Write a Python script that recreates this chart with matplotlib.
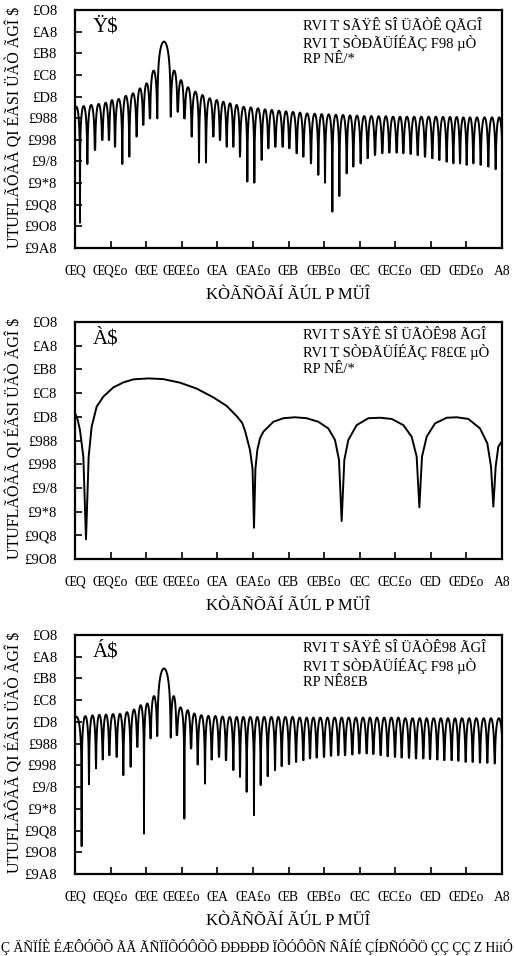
import numpy as np
import matplotlib
matplotlib.use("Agg")
import matplotlib.pyplot as plt

plt.rcParams['font.family'] = ['Liberation Serif', 'DejaVu Serif']

# axis ticks (tick index units on x, tick steps of 10 on y)
X_TICKS = np.arange(13)
X_TICK_LABELS = ["ŒQ", "ŒQ£o", "ŒŒ", "ŒŒ£o", "ŒA", "ŒA£o", "ŒB", "ŒB£o",
                 "ŒC", "ŒC£o", "ŒD", "ŒD£o", "A8"]
Y_TICKS_12 = np.arange(0, -111, -10)
Y_TICKS_11 = np.arange(0, -101, -10)
Y_TICK_LABELS = ["£O8", "£A8", "£B8", "£C8", "£D8", "£988", "£998", "£9/8",
                 "£9*8", "£9Q8", "£9O8", "£9A8"]

X_LABEL = "KÒÃÑÕÃÍ ÃÚL P MÜÎ"
Y_LABEL = "UTUFLÃÔÃÃ QI ÉÃSI ÜÃÒ ÃGÎ $"
PANEL_LABELS = ["Ÿ$", "À$", "Á$"]
LEGENDS = [
    ["RVI T SÃŸÊ SÎ ÜÃÒÊ QÃGÎ", "RVI T SÒÐÃÜÍÉÃÇ F98 µÒ", "RP NÊ/*"],
    ["RVI T SÃŸÊ SÎ ÜÃÒÊ98 ÃGÎ", "RVI T SÒÐÃÜÍÉÃÇ F8£Œ µÒ", "RP NÊ/*"],
    ["RVI T SÃŸÊ SÎ ÜÃÒÊ98 ÃGÎ", "RVI T SÒÐÃÜÍÉÃÇ F98 µÒ", "RP NÊ8£B"],
]
CAPTION = "Ç ÄÑÏÍÈ ÉÆÔÓÕÕ ÃÃ ÃÑÏÏÕÓÔÕÕ ÐÐÐÐÐ ÏÕÓÔÕÑ ÑÂÍÉ ÇÍÐÑÓÕÖ ÇÇ ÇÇ Z HiiÓ"

# panel (a): dip positions / depths and lobe tops
dips_a_x = [-0.06, 0.14, 0.347, 0.562, 0.768, 0.955, 1.124, 1.330, 1.527, 1.733,
            1.920, 2.108, 2.314, 2.689, 2.885, 3.073, 3.279, 3.485, 3.681, 3.888,
            4.075, 4.262, 4.450, 4.637, 4.843, 5.040, 5.246, 5.433, 5.630, 5.836,
            6.023, 6.230, 6.417, 6.632, 6.838, 7.026, 7.232, 7.429, 7.635, 7.822,
            8.028, 8.225, 8.431, 8.637, 8.834, 9.040, 9.227, 9.433, 9.630, 9.836,
            10.042, 10.239, 10.445, 10.632, 10.820, 11.007, 11.194, 11.400, 11.616,
            11.822, 12.02]
dips_a_y = [-70.0, -98.3, -71.2, -64.7, -60.1, -60.1, -63.2, -71.2, -67.8, -58.5,
            -53.1, -50.1, -50.1, -49.3, -47.0, -50.1, -58.5, -70.5, -70.5, -58.5,
            -60.1, -63.2, -63.2, -67.8, -79.3, -79.8, -69.3, -63.9, -63.2, -63.2,
            -63.9, -66.2, -67.8, -70.9, -76.2, -79.8, -93.2, -86.0, -75.5, -72.4,
            -70.9, -68.5, -67.0, -66.2, -65.9, -65.9, -66.2, -66.5, -67.0, -67.8,
            -68.5, -69.3, -70.1, -70.9, -70.9, -71.6, -70.9, -71.6, -72.4,
            -73.6, -75.0]
tops_a = [-44.7, -44.4, -43.9, -43.4, -42.8, -41.6, -41.1, -39.7, -38.5, -36.2,
          -33.9, -28.0, -14.6, -28.0, -32.4, -35.7, -37.7, -39.3, -40.8, -41.6,
          -42.4, -43.1, -43.9, -44.7, -45.0, -45.4, -45.9, -46.2, -46.5, -46.8,
          -47.1, -47.4, -47.8, -47.9, -48.1, -48.2, -48.4, -48.5, -48.7, -48.8,
          -49.0, -49.0, -49.1, -49.1, -49.3, -49.3, -49.3, -49.3, -49.3, -49.3,
          -49.3, -49.4, -49.4, -49.4, -49.6, -49.6, -49.6, -49.6, -49.6, -49.6]

# panel (b): traced points
b_x = [0.0, 0.07, 0.14, 0.234, 0.309, 0.384, 0.468, 0.609, 0.796, 1.077, 1.358,
       1.639, 2.061, 2.482, 2.951, 3.419, 3.888, 4.262, 4.543, 4.700, 4.778,
       4.918, 4.990, 5.030, 5.070, 5.124, 5.200, 5.293, 5.574, 5.855, 6.183,
       6.511, 6.838, 7.119, 7.307, 7.419, 7.494, 7.569, 7.681, 7.916, 8.244,
       8.571, 8.899, 9.227, 9.461, 9.602, 9.677, 9.752, 9.883, 10.117, 10.445,
       10.726, 11.054, 11.382, 11.588, 11.691, 11.757, 11.822, 11.897, 11.991]
b_y = [-38.5, -41.0, -45.6, -56.8, -91.7, -56.8, -44.2, -35.7, -31.5, -27.6,
       -25.5, -24.2, -23.8, -24.1, -25.6, -28.1, -31.8, -35.4, -39.7, -42.6,
       -45.9, -54.0, -62.0, -86.8, -62.0, -54.0, -49.0, -46.3, -42.1, -40.6,
       -40.2, -40.6, -42.1, -44.9, -49.8, -58.2, -84.0, -58.2, -49.8, -43.5,
       -40.6, -40.4, -40.9, -43.5, -48.4, -56.8, -78.2, -56.8, -48.4, -42.8,
       -40.4, -40.2, -40.9, -44.9, -51.2, -61.0, -77.9, -61.0, -52.6, -50.5]

# panel (c): dip positions / depths and lobe tops
dips_c_x = [-0.10, 0.187, 0.393, 0.590, 0.778, 0.965, 1.171, 1.358, 1.564, 1.752,
            1.939, 2.126, 2.314, 2.689, 2.857, 3.073, 3.260, 3.447, 3.653, 3.841,
            4.047, 4.244, 4.450, 4.637, 4.824, 5.030, 5.218, 5.415, 5.621, 5.808,
            6.014, 6.211, 6.417, 6.604, 6.792, 6.998, 7.194, 7.400, 7.588, 7.794,
            7.991, 8.197, 8.384, 8.590, 8.787, 8.993, 9.180, 9.386, 9.583, 9.789,
            9.977, 10.183, 10.379, 10.585, 10.773, 10.979, 11.176, 11.382, 11.588,
            11.794, 12.03]
dips_c_y = [-60.0, -97.2, -68.7, -61.4, -57.3, -55.3, -56.1, -64.5, -60.7, -51.5,
            -91.4, -47.6, -46.5, -47.2, -46.1, -84.5, -52.2, -59.6, -68.4, -57.3,
            -56.1, -57.6, -62.2, -65.3, -72.2, -82.9, -69.1, -65.0, -62.2, -60.4,
            -59.4, -58.4, -57.6, -56.8, -56.4, -56.1, -55.6, -55.3, -55.3, -55.0,
            -54.5, -54.5, -54.8, -55.3, -55.8, -56.1, -56.4, -56.5, -56.8, -56.8,
            -57.1, -57.3, -57.6, -57.6, -57.9, -58.4, -58.4, -58.7, -58.8,
            -59.1, -60.0]
tops_c = [-37.6, -37.3, -37.0, -36.7, -36.6, -36.4, -36.3, -35.5, -34.3, -32.3,
          -31.5, -28.1, -15.4, -28.1, -33.3, -34.6, -36.1, -36.9, -37.2, -37.3,
          -37.5, -37.7, -37.7, -37.7, -37.7, -37.7, -37.7, -37.7, -37.7, -37.7,
          -37.7, -38.0, -38.0, -38.0, -38.0, -38.0, -38.0, -38.0, -38.0, -38.0,
          -38.0, -38.0, -38.0, -38.0, -38.0, -38.0, -38.3, -38.3, -38.3, -38.3,
          -38.3, -38.3, -38.3, -38.3, -38.3, -38.3, -38.3, -38.3, -38.3, -38.3]


def lobes(dip_x, dip_y, tops, n=40):
    # each lobe: arch between two dips, cusp clipped at the read dip depth
    xs, ys = [], []
    for i, top in enumerate(tops):
        u = np.linspace(0, 1, n)
        with np.errstate(divide='ignore'):
            y = top + 20 * np.log10(np.abs(np.sin(np.pi * u)))
        y = np.maximum(y, np.where(u < 0.5, dip_y[i], dip_y[i + 1]))
        x = dip_x[i] + u * (dip_x[i + 1] - dip_x[i])
        if i:
            x, y = x[1:], y[1:]
        xs.append(x)
        ys.append(y)
    return np.concatenate(xs), np.concatenate(ys)


W, H = 515, 956
fig = plt.figure(figsize=(W / 100, H / 100), dpi=100)

# pixel boxes of the three axes: (top, bottom)
boxes = [(10, 248), (322, 559), (635, 874)]
curves = [lobes(dips_a_x, dips_a_y, tops_a), (np.array(b_x), np.array(b_y)),
          lobes(dips_c_x, dips_c_y, tops_c)]
yticks = [Y_TICKS_12, Y_TICKS_11, Y_TICKS_12]
left, right = 75, 502

for k, (top, bot) in enumerate(boxes):
    ax = fig.add_axes([left / W, 1 - bot / H, (right - left) / W, (bot - top) / H])
    x, y = curves[k]
    ax.plot(x, y, color='black', lw=1.4, solid_joinstyle='round')
    ax.set_xlim(0, 12)
    ax.set_ylim(yticks[k][-1], 0)
    ax.set_xticks(X_TICKS, X_TICK_LABELS)
    ax.set_yticks(yticks[k], Y_TICK_LABELS[:len(yticks[k])])
    ax.tick_params(direction='in', length=5, width=1.2)
    ax.tick_params(axis='y', labelsize=10.5, pad=13)
    ax.tick_params(axis='x', labelsize=9.8, pad=12)
    for s in ax.spines.values():
        s.set_linewidth(1.6)
    ax.text(0.042, 0.93, PANEL_LABELS[k], transform=ax.transAxes,
            fontsize=15, va='center', ha='left')
    ax.text(0.534, 0.972, "\n".join(LEGENDS[k]), transform=ax.transAxes,
            fontsize=10.5, va='top', ha='left', linespacing=1.22)
    fig.text(288 / W, 1 - (bot + 47) / H, X_LABEL, fontsize=12,
             ha='center', va='center')
    fig.text(15 / W, 1 - ((top + bot) / 2 - 2) / H, Y_LABEL, fontsize=11.5,
             rotation=90, ha='center', va='center')

fig.text(0.002, 1 - 947 / H, CAPTION, fontsize=9.8, ha='left', va='center')

fig.savefig("out.png", dpi=100)
